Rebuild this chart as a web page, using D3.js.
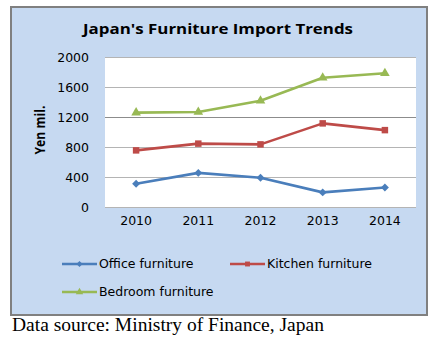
<!DOCTYPE html>
<html>
<head>
<meta charset="utf-8">
<script src="https://cdn.jsdelivr.net/npm/d3@7"></script>
<style>
  html, body { margin: 0; padding: 0; background: #ffffff; }
  svg { display: block; }
</style>
</head>
<body>
<svg id="chart" width="441" height="345"></svg>
<script>
// Japan's furniture imports, yen million
const years = ["2010", "2011", "2012", "2013", "2014"];
const officeFurniture = [310, 455, 390, 195, 260];
const kitchenFurniture = [755, 845, 835, 1115, 1025];
const bedroomFurniture = [1258, 1267, 1417, 1724, 1783];
const yTicks = [0, 400, 800, 1200, 1600, 2000];
const seriesNames = ["Office furniture", "Kitchen furniture", "Bedroom furniture"];
const seriesColors = ["#4a7ebb", "#be4b48", "#98b954"];
const seriesSymbols = [d3.symbolDiamond2, d3.symbolSquare, d3.symbolTriangle];

const series = [officeFurniture, kitchenFurniture, bedroomFurniture].map((values, i) => ({
  name: seriesNames[i], color: seriesColors[i], symbol: seriesSymbols[i], values
}));

const svg = d3.select("#chart");
const frame = { x: 11, y: 7, w: 416, h: 308 };
const plot = { left: 105, right: 416, top: 57, bottom: 207 };

// chart frame
svg.append("rect")
  .attr("x", frame.x).attr("y", frame.y)
  .attr("width", frame.w).attr("height", frame.h)
  .attr("fill", "#c6d9f1").attr("stroke", "#808080").attr("stroke-width", 2);

// plot area
svg.append("rect")
  .attr("x", plot.left).attr("y", plot.top)
  .attr("width", plot.right - plot.left).attr("height", plot.bottom - plot.top)
  .attr("fill", "#ffffff");

const x = d3.scaleBand().domain(years).range([plot.left, plot.right]);
const y = d3.scaleLinear().domain([0, 2000]).range([plot.bottom, plot.top]);
const cx = d => x(d) + x.bandwidth() / 2;

// gridlines
svg.append("g").selectAll("line").data(yTicks).join("line")
  .attr("x1", plot.left).attr("x2", plot.right)
  .attr("y1", d => Math.round(y(d)) + 0.5).attr("y2", d => Math.round(y(d)) + 0.5)
  .attr("stroke", d => d === 1200 ? "#8c8c8c" : "#b4b4b4").attr("stroke-width", 1);

// y axis labels
const yAxis = d3.axisLeft(y).tickValues(yTicks).tickFormat(d3.format("d")).tickSize(0).tickPadding(16);
const gy = svg.append("g").attr("transform", `translate(${plot.left},0)`).call(yAxis);
gy.select(".domain").remove();
gy.selectAll("text")
  .attr("font-family", "DejaVu Sans, Verdana, sans-serif")
  .attr("font-size", 12.5).attr("fill", "#000");

// x axis labels
const xAxis = d3.axisBottom(x).tickSize(0).tickPadding(9);
const gx = svg.append("g").attr("transform", `translate(0,${plot.bottom})`).call(xAxis);
gx.select(".domain").remove();
gx.selectAll("text")
  .attr("font-family", "DejaVu Sans, Verdana, sans-serif")
  .attr("font-size", 12.5).attr("fill", "#000");

// y axis title
svg.append("text")
  .attr("transform", `translate(45,130) rotate(-90)`)
  .attr("text-anchor", "middle")
  .attr("font-family", "Open Sans, Liberation Sans, sans-serif")
  .attr("font-weight", "bold").attr("font-size", 13.5)
  .attr("textLength", 49).attr("lengthAdjust", "spacingAndGlyphs")
  .text("Yen mil.");

// title
svg.append("text")
  .attr("x", 218).attr("y", 34)
  .attr("text-anchor", "middle")
  .attr("font-family", "Open Sans, Liberation Sans, sans-serif")
  .attr("font-weight", "bold").attr("font-size", 15)
  .attr("textLength", 270).attr("lengthAdjust", "spacingAndGlyphs")
  .text("Japan's Furniture Import Trends");

// lines and markers
const line = d3.line().x((d, i) => cx(years[i])).y(d => y(d));
const gs = svg.append("g").selectAll("g").data(series).join("g");
gs.append("path")
  .attr("d", s => line(s.values))
  .attr("fill", "none").attr("stroke", s => s.color)
  .attr("stroke-width", 2.6).attr("stroke-linejoin", "round");
gs.each(function (s) {
  d3.select(this).selectAll("path.marker").data(s.values).join("path")
    .attr("class", "marker")
    .attr("transform", (d, i) => `translate(${cx(years[i])},${y(d)})`)
    .attr("d", d3.symbol().type(s.symbol).size(s.symbol === d3.symbolSquare ? 42 : 40))
    .attr("fill", s.color);
});

// legend
const legendPos = [[62, 264], [230, 264], [62, 292]];
const lg = svg.append("g").selectAll("g").data(series).join("g")
  .attr("transform", (s, i) => `translate(${legendPos[i][0]},${legendPos[i][1]})`);
lg.append("line").attr("x1", 0).attr("x2", 35).attr("y1", 0).attr("y2", 0)
  .attr("stroke", s => s.color).attr("stroke-width", 2.6);
lg.append("path")
  .attr("transform", "translate(17.5,0)")
  .attr("d", s => d3.symbol().type(s.symbol).size(24)())
  .attr("fill", s => s.color);
lg.append("text")
  .attr("x", 37).attr("y", 0).attr("dy", "0.35em")
  .attr("font-family", "DejaVu Sans, Verdana, sans-serif")
  .attr("font-size", 12.5).attr("fill", "#000")
  .text(s => s.name);

// source note
svg.append("text")
  .attr("x", 12).attr("y", 331)
  .attr("font-family", "Liberation Serif, Times New Roman, serif")
  .attr("font-size", 19.5)
  .text("Data source: Ministry of Finance, Japan");
</script>
</body>
</html>
